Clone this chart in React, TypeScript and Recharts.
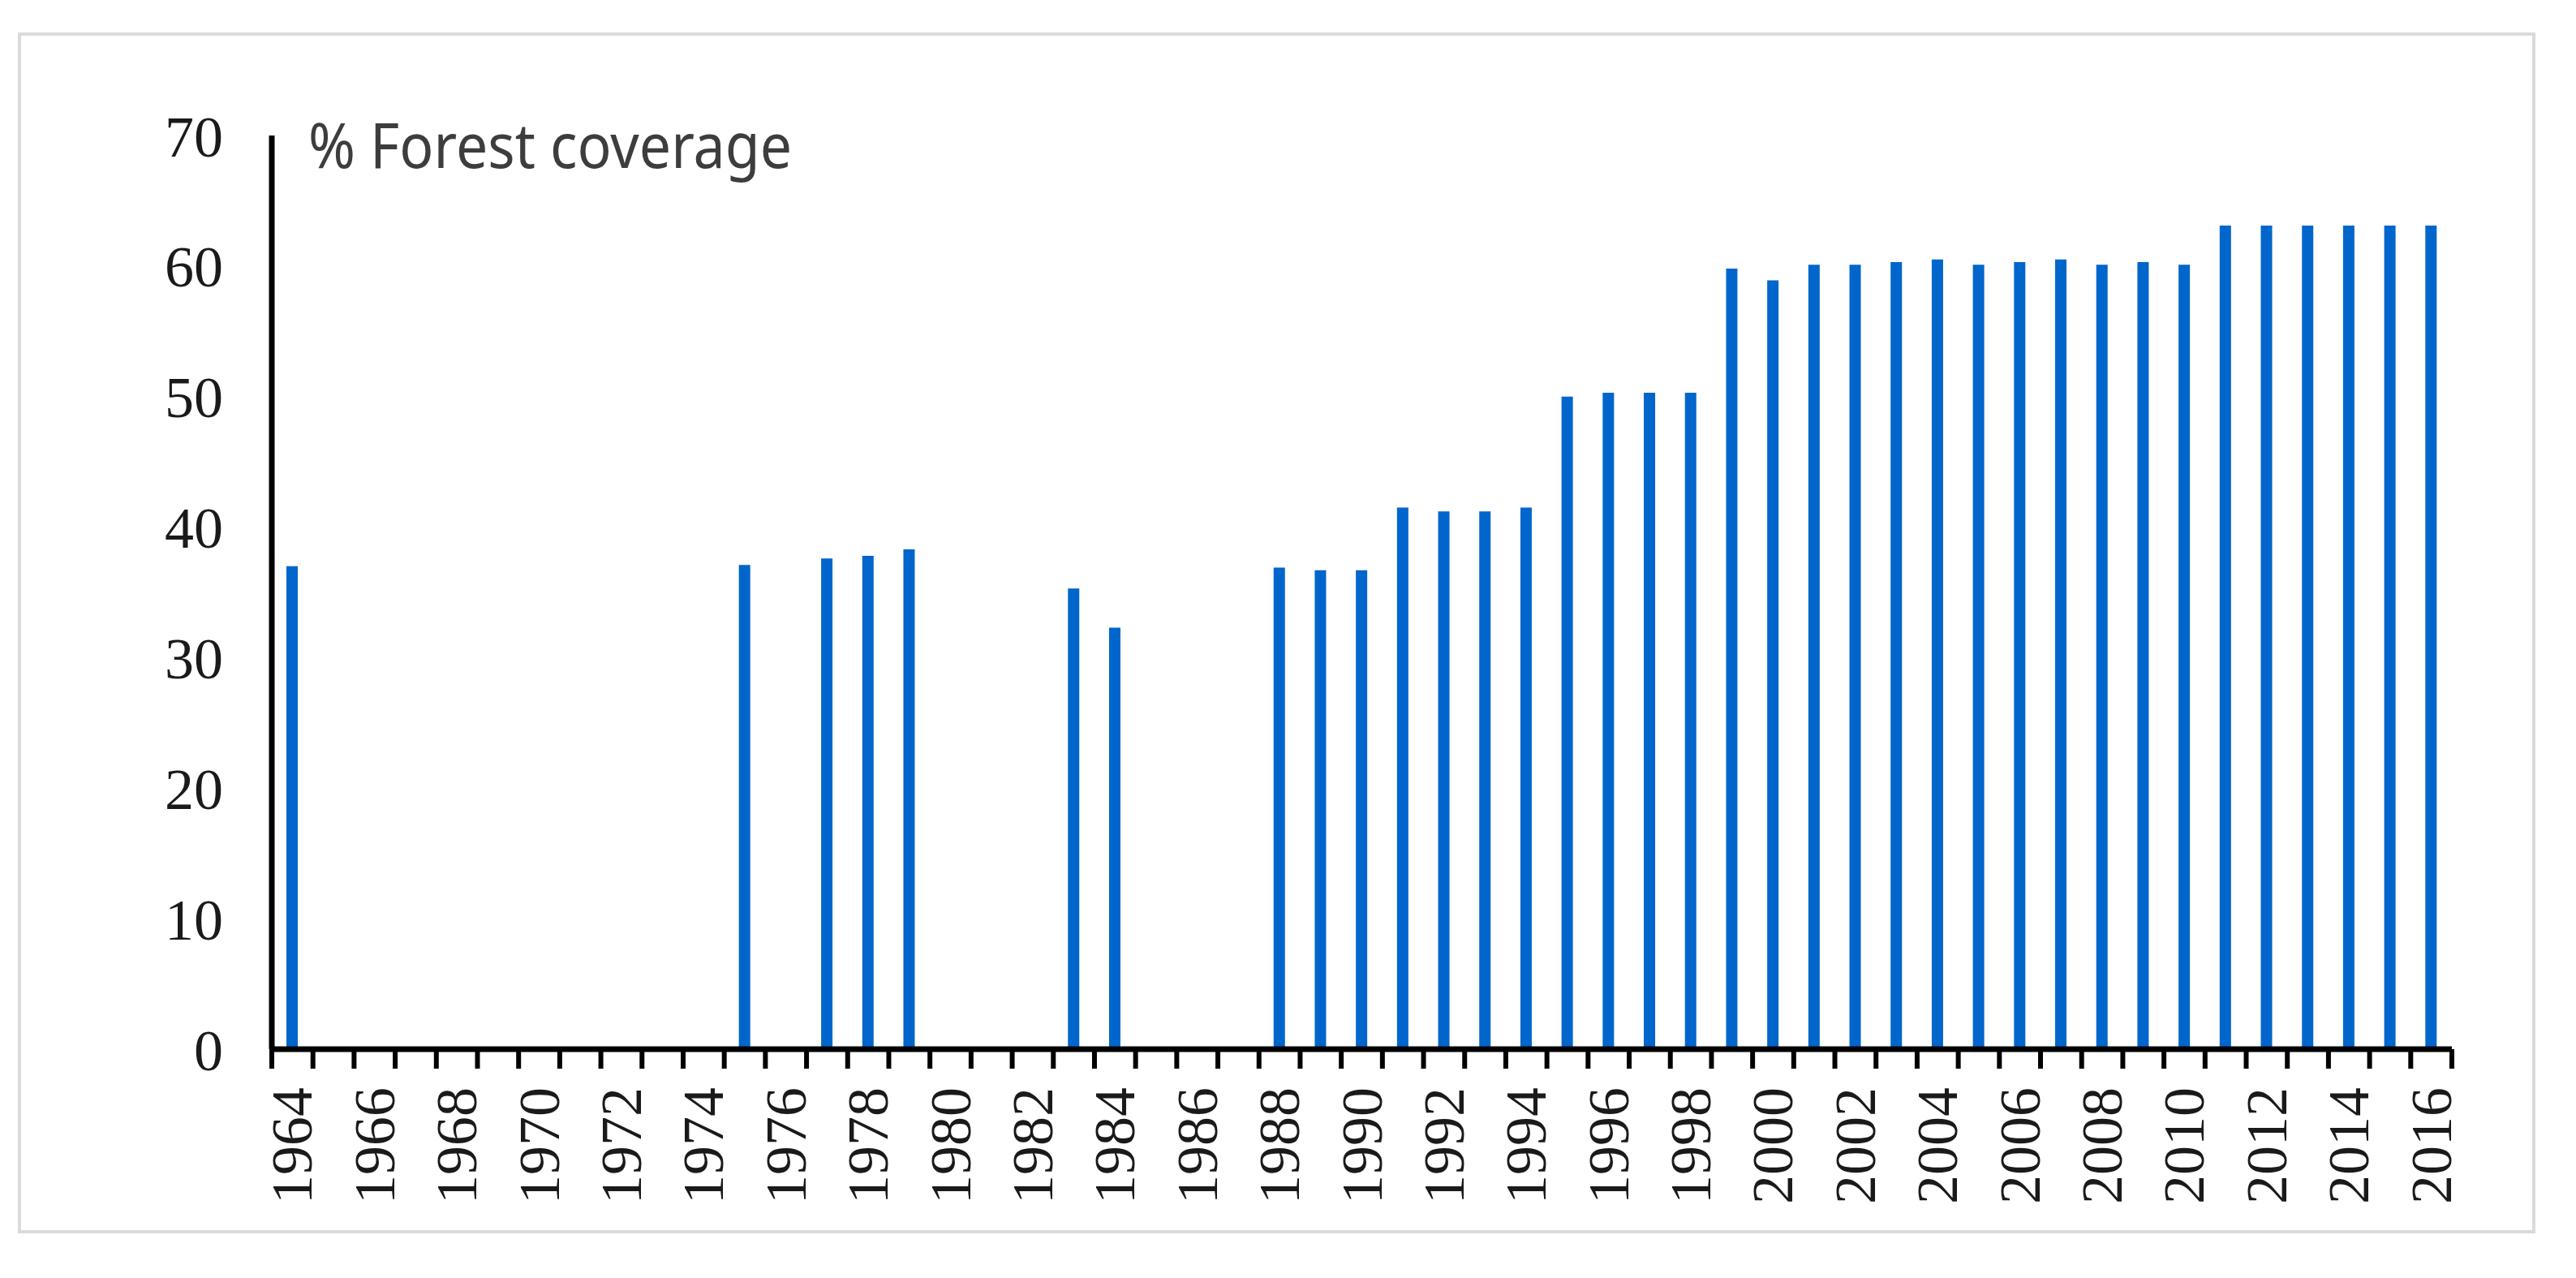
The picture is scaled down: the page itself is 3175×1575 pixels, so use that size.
import React from 'react';
import { BarChart, Bar, XAxis, YAxis } from 'recharts';

// years on the category axis, 1964..2016 (missing surveys are null)
const YEARS = [
  1964, 1965, 1966, 1967, 1968, 1969, 1970, 1971, 1972, 1973, 1974, 1975, 1976, 1977,
  1978, 1979, 1980, 1981, 1982, 1983, 1984, 1985, 1986, 1987, 1988, 1989, 1990, 1991,
  1992, 1993, 1994, 1995, 1996, 1997, 1998, 1999, 2000, 2001, 2002, 2003, 2004, 2005,
  2006, 2007, 2008, 2009, 2010, 2011, 2012, 2013, 2014, 2015, 2016,
];

const COVERAGE: (number | null)[] = [
  37.0, null, null, null, null, null, null, null, null, null, null, 37.1, null, 37.6,
  37.8, 38.3, null, null, null, 35.3, 32.3, null, null, null, 36.9, 36.7, 36.7, 41.5,
  41.2, 41.2, 41.5, 50.0, 50.3, 50.3, 50.3, 59.8, 58.9, 60.1, 60.1, 60.3, 60.5, 60.1,
  60.3, 60.5, 60.1, 60.3, 60.1, 63.1, 63.1, 63.1, 63.1, 63.1, 63.1,
];

const Y_TICKS = [0, 10, 20, 30, 40, 50, 60, 70];
const TITLE = '% Forest coverage';

const W = 3175;
const H = 1575;
const BAR_COLOR = '#0066CC';
const LABEL_FONT = '"Liberation Serif", "DejaVu Serif", serif';

const data = YEARS.map((y, i) => ({ year: String(y), value: COVERAGE[i] }));

function YearTick(props: any) {
  const { x, y, payload, index } = props;
  const half = payload && payload.offset ? payload.offset : 25.4;
  const isLast = index === YEARS.length - 1;
  const showLabel = index % 2 === 0;
  const ly = y + 47;
  return (
    <g>
      <line x1={x - half} y1={y} x2={x - half} y2={y + 24} stroke="#000" strokeWidth={6} />
      {isLast && (
        <line x1={x + half} y1={y} x2={x + half} y2={y + 24} stroke="#000" strokeWidth={6} />
      )}
      {showLabel && (
        <text
          x={x}
          y={ly}
          textAnchor="end"
          dominantBaseline="central"
          transform={`rotate(-90, ${x}, ${ly})`}
          fontFamily={LABEL_FONT}
          fontSize={72}
          fill="#1a1a1a"
        >
          {payload.value}
        </text>
      )}
    </g>
  );
}

export default function App() {
  return (
    <div style={{ position: 'relative', width: W, height: H, background: '#fff' }}>
      <style>{`body { margin: 0; }`}</style>
      <div
        style={{
          position: 'absolute',
          left: 22,
          top: 40,
          width: 3125 - 22,
          height: 1520 - 40,
          border: '4px solid #dadada',
          boxSizing: 'border-box',
        }}
      />
      <div style={{ position: 'absolute', left: 0, top: 0 }}>
        <BarChart
          width={W}
          height={H}
          data={data}
          margin={{ top: 167, right: 153, left: 0, bottom: 0 }}
          barCategoryGap={0}
        >
          <XAxis
            dataKey="year"
            interval={0}
            height={282}
            tickSize={0}
            tickMargin={0}
            axisLine={{ stroke: '#000', strokeWidth: 7 }}
            tickLine={false}
            tick={<YearTick />}
          />
          <YAxis
            width={335}
            domain={[0, 70]}
            ticks={Y_TICKS}
            interval={0}
            tickLine={false}
            tickSize={0}
            tickMargin={60}
            axisLine={{ stroke: '#000', strokeWidth: 7 }}
            tick={{ fontFamily: LABEL_FONT, fontSize: 72, fill: '#1a1a1a' }}
          />
          <Bar dataKey="value" fill={BAR_COLOR} barSize={14} isAnimationActive={false} />
        </BarChart>
      </div>
      <svg
        width={W}
        height={H}
        style={{ position: 'absolute', left: 0, top: 0, pointerEvents: 'none' }}
      >
        <text
          x={380}
          y={207}
          fontFamily='"Noto Sans", "Liberation Sans", sans-serif'
          fontSize={76}
          fill="#3d3d3d"
          textLength={596}
          lengthAdjust="spacingAndGlyphs"
        >
          {TITLE}
        </text>
      </svg>
    </div>
  );
}
